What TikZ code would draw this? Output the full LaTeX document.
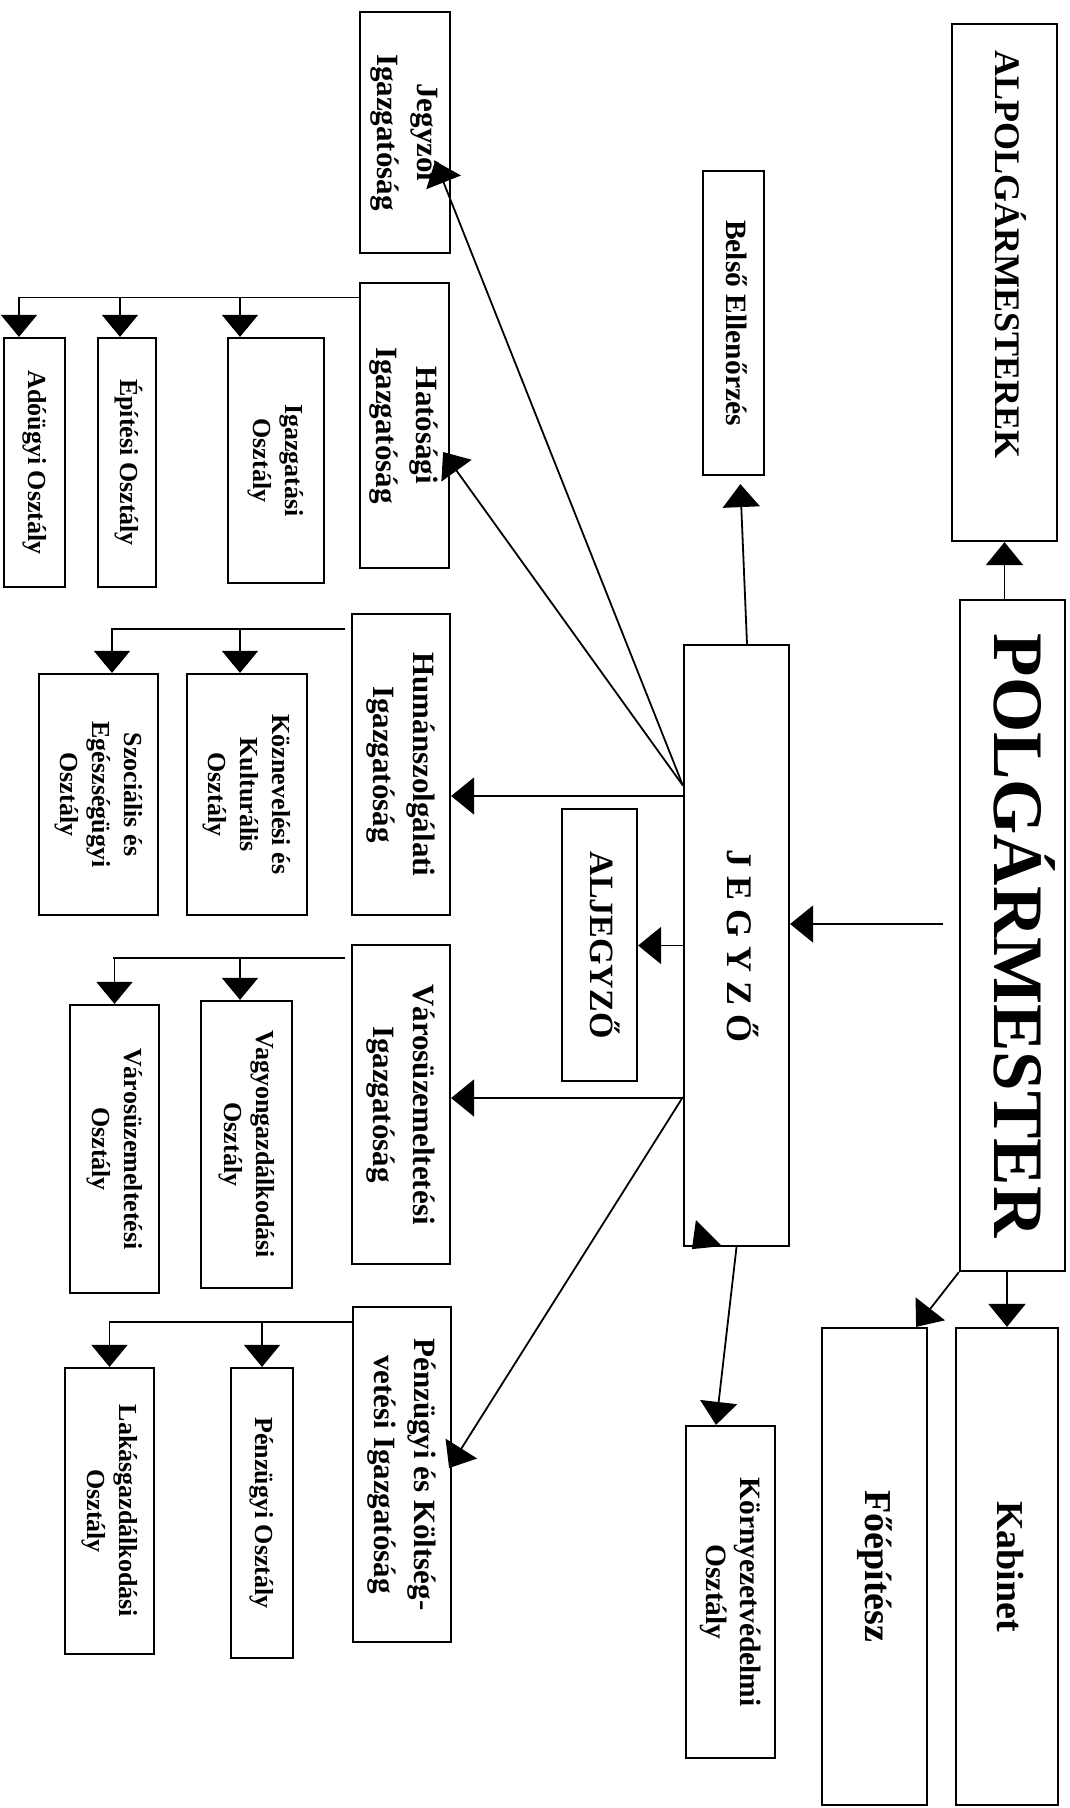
\documentclass[tikz,border=0pt]{standalone}
\usepackage{fontspec}
\setmainfont{Liberation Serif}
\usepackage{graphicx}
\usetikzlibrary{arrows.meta}
\newcommand{\rt}[1]{\rotatebox{-90}{\begin{tabular}{@{}c@{}}#1\end{tabular}}}

\begin{document}
\begin{tikzpicture}[x=1pt,y=-1pt,>={Triangle[length=23pt,width=37pt]},
		box/.style={rectangle,draw=black,line width=2.2pt,inner sep=0pt},
		dirbox/.style={box,font=\fontsize{31}{40}\selectfont\bfseries},
		deptbox/.style={box,font=\fontsize{26}{32}\selectfont\bfseries},
		conn/.style={line width=1.8pt},
		bus/.style={line width=1.6pt},
		sub/.style={line width=1.6pt,-{Triangle[length=22pt,width=36pt]}}]
		\useasboundingbox (0,0) rectangle (1069,1808);
		
		% vezetes
		\node[box,font=\fontsize{36}{44}\selectfont\bfseries,minimum width=105pt,minimum height=517pt] (alpolg) at (1004.5,282.5) {\rt{ALPOLGÁRMESTEREK\hspace*{56pt}}};
		\node[box,font=\fontsize{71}{80}\selectfont\bfseries,minimum width=105pt,minimum height=671pt] (polg) at (1012.5,935.5) {\rt{POLGÁRMESTER}};
		\node[box,font=\fontsize{38}{46}\selectfont\bfseries,minimum width=102pt,minimum height=477pt] (kabinet) at (1007,1566.5) {\rt{Kabinet}};
		\node[box,font=\fontsize{38}{46}\selectfont\bfseries,minimum width=105pt,minimum height=477pt] (foepitesz) at (874.5,1566.5) {\rt{Főépítész}};
		\node[box,font=\fontsize{29.5}{36}\selectfont\bfseries,minimum width=61pt,minimum height=304pt] (belso) at (733.5,323) {\rt{Belső Ellenőrzés}};
		\node[box,font=\fontsize{36}{44}\selectfont\bfseries,minimum width=105pt,minimum height=601pt] (jegyzo) at (736.5,945.5) {\rt{J E G Y Z Ő}};
		\node[box,font=\fontsize{34}{40}\selectfont\bfseries,minimum width=75pt,minimum height=272pt] (aljegyzo) at (599.5,945) {\rt{ALJEGYZŐ}};
		\node[box,font=\fontsize{29.5}{34}\selectfont\bfseries,minimum width=89pt,minimum height=332pt] (kornyezet) at (730.5,1592) {\rt{Környezetvédelmi\\Osztály}};
		
		% igazgatosagok
		\node[dirbox,minimum width=90pt,minimum height=241pt] (jegyzoi) at (405,132.5) {\rt{Jegyzői\\Igazgatóság}};
		\node[dirbox,minimum width=89pt,minimum height=285pt] (hatosagi) at (404.5,425.5) {\rt{Hatósági\\Igazgatóság}};
		\node[dirbox,minimum width=98pt,minimum height=301pt] (human) at (401,764.5) {\rt{Humánszolgálati\\Igazgatóság}};
		\node[dirbox,minimum width=98pt,minimum height=319pt] (varos) at (401,1104.5) {\rt{Városüzemeltetési\\Igazgatóság}};
		\node[dirbox,minimum width=98pt,minimum height=335pt] (penzigazg) at (402,1474.5) {\rt{Pénzügyi és Költség-\\vetési Igazgatóság}};
		
		% osztalyok
		\node[deptbox,minimum width=96pt,minimum height=245pt] (igazgoszt) at (276,460.5) {\rt{Igazgatási\\Osztály}};
		\node[deptbox,minimum width=58pt,minimum height=249pt] (epitesi) at (127,462.5) {\rt{Építési Osztály}};
		\node[deptbox,minimum width=61pt,minimum height=249pt] (adougyi) at (34.5,462.5) {\rt{Adóügyi Osztály}};
		\node[deptbox,minimum width=120pt,minimum height=241pt] (koznev) at (247,794.5) {\rt{Köznevelési és\\Kulturális\\Osztály}};
		\node[deptbox,minimum width=119pt,minimum height=241pt] (szoc) at (98.5,794.5) {\rt{Szociális és\\Egészségügyi\\Osztály}};
		\node[deptbox,minimum width=91pt,minimum height=287pt] (vagyon) at (246.5,1144.5) {\rt{Vagyongazdálkodási\\Osztály}};
		\node[deptbox,minimum width=89pt,minimum height=288pt] (varososzt) at (114.5,1149) {\rt{Városüzemeltetési\\Osztály}};
		\node[deptbox,minimum width=62pt,minimum height=290pt] (penzoszt) at (262,1513) {\rt{Pénzügyi Osztály}};
		\node[deptbox,minimum width=89pt,minimum height=286pt] (lakas) at (109.5,1511) {\rt{Lakásgazdálkodási\\Osztály}};
		
		% polgarmester es jegyzo
		\draw[conn,->] (polg.north -| alpolg.south) -- (alpolg.south);
		\draw[conn,->] (polg.south -| kabinet.north) -- (kabinet.north);
		\draw[conn,->] (polg.south west) -- ([xshift=-12pt]foepitesz.north east);
		\draw[conn,->,shorten <=16pt] ([yshift=11.5pt]polg.west) -- ([yshift=11.5pt]polg.west -| jegyzo.east);
		\draw[conn,->] (jegyzo.west) -- (jegyzo.west -| aljegyzo.east);
		\draw[conn,->,shorten >=8pt] ([xshift=10.5pt]jegyzo.north) -- ([xshift=6.5pt]belso.south);
		\draw[conn,->] (jegyzo.south) -- ([xshift=-14.5pt]kornyezet.north);
		\fill ([xshift=13pt,yshift=27pt]jegyzo.south west) -- ([xshift=9pt,yshift=-2pt]jegyzo.south west) -- ([xshift=39pt,yshift=1pt]jegyzo.south west) -- cycle;
		
		% jegyzo -> igazgatosagok
		\draw[conn,->] ([yshift=160pt]jegyzo.west) -- ([xshift=-16pt,yshift=-28.5pt]jegyzoi.east);
		\draw[conn,->] ([yshift=160pt]jegyzo.west) -- ([xshift=-7pt,yshift=-26.5pt]hatosagi.east);
		\draw[conn,->] ([yshift=-31.5pt]human.east -| jegyzo.west) -- ([yshift=-31.5pt]human.east);
		\draw[conn,->] ([yshift=6.5pt]varos.east -| jegyzo.west) -- ([yshift=6.5pt]varos.east);
		\draw[conn,->] ([yshift=-151.5pt]jegyzo.west) -- ([xshift=-3pt,yshift=6.5pt]penzigazg.east);
		
		% igazgatosagok -> osztalyok
		\draw[bus] ([yshift=-15.5pt]hatosagi.north west) -- ++(-341,0);
		\foreach \t/\dx in {igazgoszt/-36,epitesi/-7,adougyi/-15.5}
		\draw[sub] ([xshift=\dx pt,yshift=39.5pt]\t.north) -- ([xshift=\dx pt]\t.north);
		
		\draw[bus] ([xshift=-6pt,yshift=-16pt]human.north west) -- ++(-234,0);
		\foreach \t/\dx in {koznev/-7,szoc/13.5}
		\draw[sub] ([xshift=\dx pt,yshift=44pt]\t.north) -- ([xshift=\dx pt]\t.north);
		
		\draw[bus] ([xshift=-6pt,yshift=-14pt]varos.north west) -- ++(-232,0);
		\draw[sub] ([xshift=-6.5pt,yshift=42pt]vagyon.north) -- ([xshift=-6.5pt]vagyon.north);
		\draw[sub] ([yshift=46pt]varososzt.north) -- (varososzt.north);
		
		\draw[bus] ([yshift=-16pt]penzigazg.north west) -- ++(-243,0);
		\foreach \t in {penzoszt,lakas}
		\draw[sub] ([yshift=45pt]\t.north) -- (\t.north);
\end{tikzpicture}
\end{document}
